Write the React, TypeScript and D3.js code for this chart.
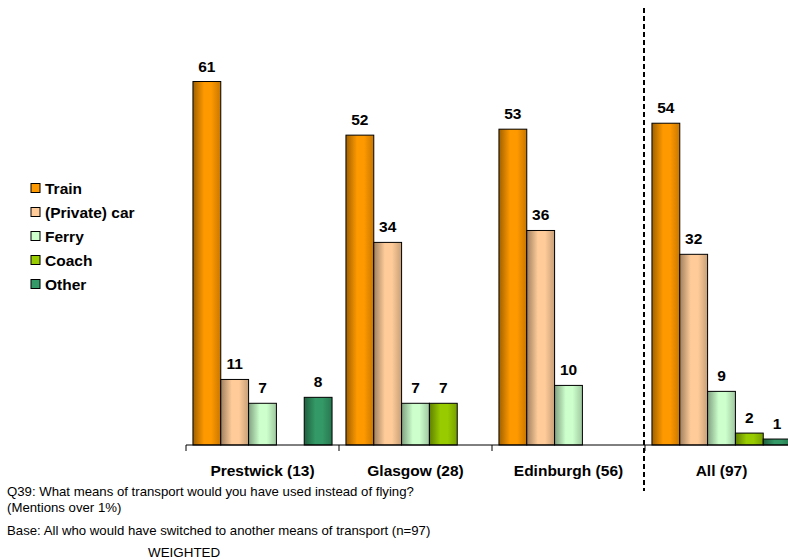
import React, { useEffect, useRef } from 'react';
import * as d3 from 'd3';

const groups = ['Prestwick (13)', 'Glasgow (28)', 'Edinburgh (56)', 'All (97)'];
const series = ['Train', '(Private) car', 'Ferry', 'Coach', 'Other'];
const colors = ['#FF9900', '#FFCC99', '#CCFFCC', '#99CC00', '#339966'];

const train = [61, 52, 53, 54];
const privateCar = [11, 34, 36, 32];
const ferry = [7, 7, 10, 9];
const coach = [null, 7, null, 2];
const other = [8, null, null, 1];

const footnotes = [
  'Q39: What means of transport would you have used instead of flying?',
  '(Mentions over 1%)',
  'Base: All who would have switched to another means of transport (n=97)',
];

const FONT = 'Arial, "Liberation Sans", sans-serif';

export default function App() {
  const ref = useRef<SVGSVGElement>(null);

  useEffect(() => {
    const width = 788;
    const height = 560;
    const values = [train, privateCar, ferry, coach, other];

    const svg = d3.select(ref.current)
      .attr('width', width)
      .attr('height', height)
      .style('font-family', FONT);
    svg.selectAll('*').remove();

    const baseY = 445;
    const x0 = d3.scaleBand().domain(groups).range([186, 798]);
    const x1 = d3.scaleBand().domain(series).range([0, x0.bandwidth()]).paddingOuter(0.25);
    const y = d3.scaleLinear().domain([0, 73]).range([baseY, 10]);

    // horizontal shading like the original 3d-ish bars
    const defs = svg.append('defs');
    colors.forEach((c, i) => {
      const g = defs.append('linearGradient').attr('id', 'grad' + i)
        .attr('x1', 0).attr('x2', 1).attr('y1', 0).attr('y2', 0);
      const base = d3.color(c)!;
      g.append('stop').attr('offset', 0).attr('stop-color', d3.rgb(base).darker(1.3).formatHex());
      g.append('stop').attr('offset', 0.4).attr('stop-color', c);
      g.append('stop').attr('offset', 0.65).attr('stop-color', c);
      g.append('stop').attr('offset', 1).attr('stop-color', d3.rgb(base).darker(0.7).formatHex());
    });

    const rows = series.flatMap((s, si) =>
      groups.map((g, gi) => ({ s, si, g, v: values[si][gi] }))
    ).filter(d => d.v != null) as { s: string; si: number; g: string; v: number }[];

    svg.append('g')
      .selectAll('rect')
      .data(rows)
      .join('rect')
      .attr('x', d => x0(d.g)! + x1(d.s)!)
      .attr('y', d => y(d.v))
      .attr('width', x1.bandwidth())
      .attr('height', d => baseY - y(d.v))
      .attr('fill', d => `url(#grad${d.si})`)
      .attr('stroke', '#000')
      .attr('stroke-width', 1);

    svg.append('g')
      .selectAll('text')
      .data(rows)
      .join('text')
      .attr('x', d => x0(d.g)! + x1(d.s)! + x1.bandwidth() / 2)
      .attr('y', d => y(d.v) - 10)
      .attr('text-anchor', 'middle')
      .style('font-size', '15.5px')
      .style('font-weight', 'bold')
      .text(d => d.v);

    // axis
    const axis = svg.append('g');
    axis.append('line')
      .attr('x1', 186).attr('x2', width).attr('y1', baseY).attr('y2', baseY)
      .attr('stroke', '#000');
    axis.selectAll('line.tick')
      .data(groups)
      .join('line')
      .attr('class', 'tick')
      .attr('x1', d => x0(d)!).attr('x2', d => x0(d)!)
      .attr('y1', baseY).attr('y2', baseY + 6)
      .attr('stroke', '#000');
    axis.selectAll('text')
      .data(groups)
      .join('text')
      .attr('x', d => x0(d)! + x0.bandwidth() / 2)
      .attr('y', 476)
      .attr('text-anchor', 'middle')
      .style('font-size', '15.5px')
      .style('font-weight', 'bold')
      .text(d => d);

    // divider before "All"
    svg.append('line')
      .attr('x1', x0('All (97)')! - 1).attr('x2', x0('All (97)')! - 1)
      .attr('y1', 8).attr('y2', 491)
      .attr('stroke', '#000')
      .attr('stroke-width', 2)
      .attr('stroke-dasharray', '5,3');

    // legend
    const legend = svg.append('g').selectAll('g')
      .data(series)
      .join('g')
      .attr('transform', (d, i) => `translate(31,${188 + i * 24})`);
    legend.append('rect')
      .attr('x', 0).attr('y', -4.5).attr('width', 9).attr('height', 9)
      .attr('fill', (d, i) => colors[i])
      .attr('stroke', '#000');
    legend.append('text')
      .attr('x', 14).attr('y', 5.5)
      .style('font-size', '15.5px')
      .style('font-weight', 'bold')
      .text(d => d);

    // notes
    svg.append('g').selectAll('text')
      .data(footnotes)
      .join('text')
      .attr('x', 7)
      .attr('y', (d, i) => [496, 512, 535][i])
      .style('font-size', '13.2px')
      .text(d => d);
    svg.append('text')
      .attr('x', 148).attr('y', 557)
      .style('font-size', '13.4px')
      .text('WEIGHTED');
  }, []);

  return <svg ref={ref} style={{ position: 'absolute', left: 0, top: 0, display: 'block' }} />;
}
